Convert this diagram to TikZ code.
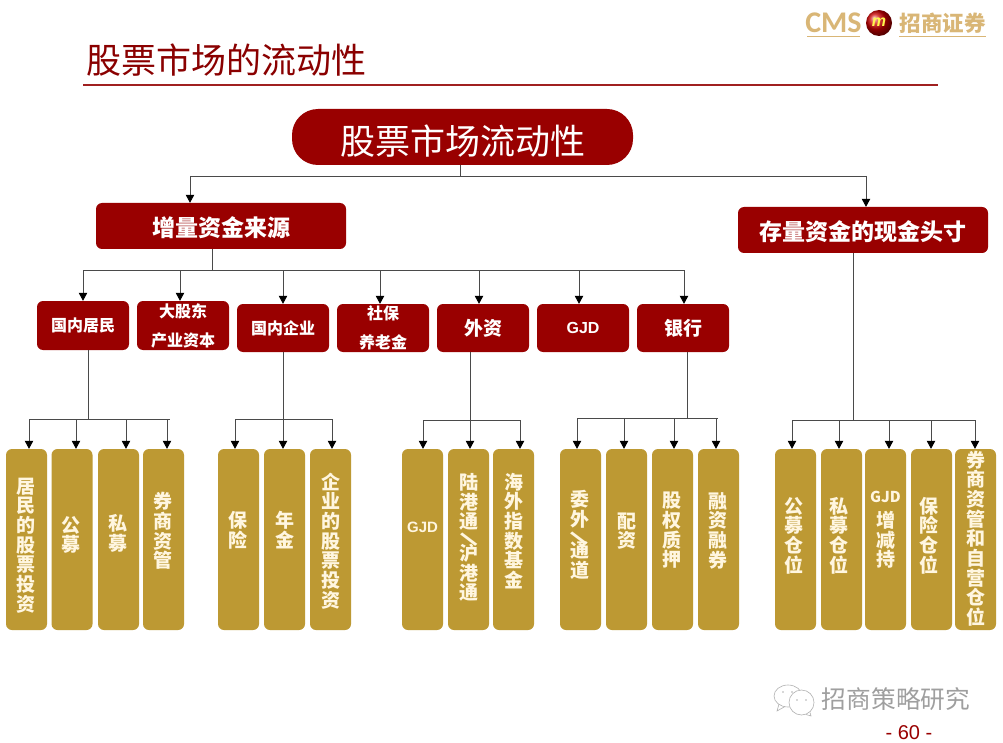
\documentclass[tikz,border=0pt]{standalone}
\usepackage{fontspec}
\setmainfont{Liberation Sans}
\newfontfamily\cjk{Noto Sans CJK SC}
\newfontfamily\logofont{Carlito}
\usetikzlibrary{arrows.meta,shadings}
\definecolor{dred}{HTML}{990000}
\definecolor{rule}{HTML}{A02020}
\definecolor{gold}{HTML}{BD9933}
\definecolor{cream}{HTML}{FFF6E0}
\definecolor{logogold}{HTML}{D9B676}
\definecolor{wire}{HTML}{4A4A4A}
\newcommand{\px}[1]{\fontsize{#1}{#1}\selectfont}
\lineskiplimit=-20pt
\tikzset{
  redbox/.style={fill=dred,text=white,rounded corners=6pt,inner sep=0pt,align=center},
  rowbox/.style={redbox,minimum width=92pt,minimum height=48pt},
  rowsmall/.style={rowbox,font=\cjk\bfseries\fontsize{16}{29}\selectfont},
  rowbig/.style={rowbox,font=\cjk\bfseries\px{19}},
  bigbox/.style={redbox,minimum width=250pt,minimum height=46pt,font=\cjk\bfseries\px{23}},
  goldbox/.style={fill=gold,rounded corners=6pt,inner sep=0pt,minimum width=41pt,minimum height=181pt},
  goldtext/.style={text=cream,inner sep=0pt,align=center,font=\cjk\bfseries\fontsize{19}{19.7}\selectfont},
  latin/.style={text=cream,inner sep=0pt,font=\bfseries\px{15}},
  slashtext/.style={text=cream,inner sep=0pt,rotate=42,font=\bfseries\px{25}},
  wireline/.style={draw=wire,line width=0.8pt},
  arr/.style={wireline,-{Triangle[length=8pt,width=8.5pt,black]}},
}
% name, box x, text x offset, text y offset (up is positive), text
\newcommand{\goldnode}[5]{\node[goldbox] (#1) at (#2,539.5) {};
  \node[goldtext,xshift=#3pt,yshift=#4pt] (#1t) at (#1.center) {#5};}
\begin{document}
\begin{tikzpicture}[x=1pt,y=-1pt]
\useasboundingbox (0,0) rectangle (1003,743);
\fill[white] (0,0) rectangle (1003,743);
% header
\node[text=dred!90!black,font=\cjk\px{35}] (title) at (226,60) {股票市场的流动性};
\draw[rule,line width=1.6pt] (83,85) -- (938,85);
% logo
\node[text=logogold,font=\logofont\bfseries\px{30}] (cms) at (833.5,23) {CMS};
\draw[logogold,line width=1pt] (807,36.5) -- (860,36.5);
\shade[ball color=red!80!black] (879,23) circle (13);
\node[text=yellow!70!white,font=\bfseries\itshape\px{16}] (m) at (879,22) {m};
\node[text=logogold,font=\cjk\bfseries\px{21.5}] (brand) at (942.5,23) {招商证券};
\draw[logogold,line width=1pt] (899,36.5) -- (986,36.5);
% top
\node[redbox,minimum width=341pt,minimum height=56pt,rounded corners=26pt,font=\cjk\px{35}] (root) at (462.5,137) {\raisebox{-17.3pt}[0pt][0pt]{股票市场流动性}};
\node[bigbox] (inc) at (221,226) {\raisebox{-10.7pt}[0pt][0pt]{增量资金来源}};
\node[bigbox] (stock) at (863,230) {\raisebox{-10.7pt}[0pt][0pt]{存量资金的现金头寸}};
% row
\node[rowsmall,minimum height=49pt] (a1) at (83,325.5) {国内居民};
\node[rowsmall,minimum height=49pt] (a2) at (183,325.5) {大股东\\产业资本};
\node[rowsmall] (a3) at (283,328) {国内企业};
\node[rowsmall] (a4) at (383,328) {社保\\养老金};
\node[rowbig] (a5) at (483,328) {外资};
\node[rowbox,font=\bfseries\px{16}] (a6) at (583,328) {GJD};
\node[rowbig] (a7) at (683,328) {银行};
% gold
\goldnode{b1}{26.5}{-0.5}{-6}{居\\民\\的\\股\\票\\投\\资}
\goldnode{b2}{72}{-1}{4.5}{公\\募}
\goldnode{b3}{118.5}{-0.5}{6}{私\\募}
\goldnode{b4}{163.5}{-0.5}{8.5}{券\\商\\资\\管}
\goldnode{c1}{238.5}{-0.5}{9.5}{保\\险}
\goldnode{c2}{284.5}{0}{9.5}{年\\金}
\goldnode{c3}{330.5}{0}{-1.5}{企\\业\\的\\股\\票\\投\\资}
\node[goldbox] (d1) at (422.5,539.5) {};
\node[latin,yshift=12.5pt] (d1t) at (d1.center) {GJD};
\goldnode{d2}{468.5}{0}{2}{陆\\港\\通\\\mbox{}\\[-8pt]沪\\港\\通}
\node[slashtext,yshift=-0.5pt] (d2s) at (d2.center) {\textbackslash};
\goldnode{d3}{513.5}{0}{8.5}{海\\外\\指\\数\\基\\金}
\goldnode{e1}{580.5}{-1}{4.5}{委\\外\\\mbox{}\\[-8pt]通\\道}
\node[slashtext,xshift=-1pt,yshift=1.5pt] (e1s) at (e1.center) {\textbackslash};
\goldnode{e2}{626.5}{0.5}{8.5}{配\\资}
\goldnode{e3}{672.5}{-1}{9}{股\\权\\质\\押}
\goldnode{e4}{718.5}{-0.5}{9}{融\\资\\融\\券}
\goldnode{f1}{795.5}{-2}{4}{公\\募\\仓\\位}
\goldnode{f2}{841.5}{-3}{4}{私\\募\\仓\\位}
\goldnode{f3}{885.5}{0}{9.5}{{\bfseries\fontsize{15}{15}\selectfont GJD}\\[5pt]增\\减\\持}
\goldnode{f4}{931.5}{-3}{4}{保\\险\\仓\\位}
\goldnode{f5}{975.5}{0.5}{1}{券\\商\\资\\管\\和\\自\\营\\仓\\位}
% junctions
\coordinate (j0) at (460,176);
\coordinate (j1) at (212,270);
\coordinate (j2) at (88,419);
\coordinate (j3) at (283,419);
\coordinate (j4) at (470,420);
\coordinate (j5) at (687,418);
\coordinate (j6) at (853,420);
% wires
\draw[wireline] (root.south -| j0) -- (j0);
\draw[wireline] (190,176) -- (866,176);
\draw[arr] (190,0 |- j0) -- (190,0 |- inc.north);
\draw[arr] (866,0 |- j0) -- (866,0 |- stock.north);
\draw[wireline] (inc.south -| j1) -- (j1);
\draw[wireline] (83,270) -- (684,270);
\foreach \t/\x in {a1/83,a2/180,a3/283,a4/380,a5/479,a6/579,a7/684}{
  \draw[arr] (\x,0 |- j1) -- (\x,0 |- \t.north);
}
\draw[wireline] (a1.south -| j2) -- (j2);
\draw[wireline] (29,419) -- (170,419);
\foreach \t/\x in {b1/29,b2/76,b3/126,b4/167}{
  \draw[arr] (\x,0 |- j2) -- (\x,0 |- \t.north);
}
\draw[wireline] (a3.south -| j3) -- (j3);
\draw[wireline] (235,419) -- (332,419);
\foreach \t/\x in {c1/235,c2/283,c3/332}{
  \draw[arr] (\x,0 |- j3) -- (\x,0 |- \t.north);
}
\draw[wireline] (a5.south -| j4) -- (j4);
\draw[wireline] (423,420) -- (520,420);
\foreach \t/\x in {d1/423,d2/470,d3/520}{
  \draw[arr] (\x,0 |- j4) -- (\x,0 |- \t.north);
}
\draw[wireline] (a7.south -| j5) -- (j5);
\draw[wireline] (577,418) -- (718,418);
\foreach \t/\x in {e1/577,e2/624,e3/674,e4/716}{
  \draw[arr] (\x,0 |- j5) -- (\x,0 |- \t.north);
}
\draw[wireline] (stock.south -| j6) -- (j6);
\draw[wireline] (792,420) -- (975,420);
\foreach \t/\x in {f1/792,f2/839,f3/889,f4/931,f5/975}{
  \draw[arr] (\x,0 |- j6) -- (\x,0 |- \t.north);
}
% watermark
\begin{scope}[draw=gray!60,line width=0.6pt]
\draw (788,696) ellipse (14 and 11);
\fill[white] (801.5,702.5) ellipse (12.5 and 12.5);
\draw (801.5,702.5) ellipse (12.5 and 12.5);
\fill[gray!60] (783,692) circle (0.9) (792,692) circle (0.9) (797,700) circle (0.9) (806,700) circle (0.9);
\draw (779,704) -- (777,711) -- (785,706.5);
\draw (806,714.5) -- (811,716) -- (810,712.5);
\end{scope}
\node[text=gray!75,font=\cjk\px{24.7}] (wm) at (896,699) {招商策略研究};
\node[text=dred,font=\px{20}] (page) at (909,733) {- 60 -};
\end{tikzpicture}
\end{document}
